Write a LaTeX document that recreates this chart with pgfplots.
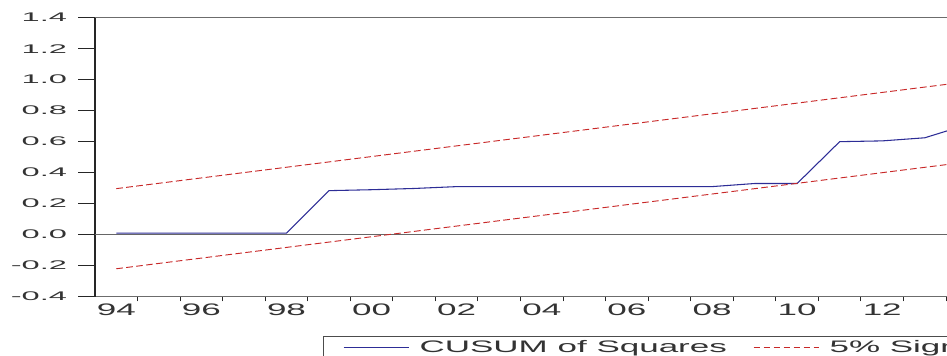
\documentclass[border=0pt]{standalone}
\usepackage{fontspec}
\setmainfont{Liberation Sans}
\newfontfamily\xfont{Liberation Sans}[FakeStretch=2.1]
\newfontfamily\yfont{Liberation Sans}[FakeStretch=2.6]
\usepackage{pgfplots}
\pgfplotsset{compat=1.18}
\definecolor{cusum}{RGB}{45,45,150}
\definecolor{sig}{RGB}{200,40,40}
\begin{document}
\begin{tikzpicture}
\useasboundingbox (-71.25pt,-44.5pt) rectangle (639pt,222.5pt);
\clip (-71.25pt,-44.5pt) rectangle (639pt,222.5pt);
\begin{axis}[
  at={(0,0)}, anchor=south west,
  scale only axis, width=893.6pt, height=209.25pt,
  xmin=1993.5, xmax=2021.5, ymin=-0.4, ymax=1.4,
  separate axis lines,
  x axis line style={draw=gray!85!black, line width=0.9pt},
  y axis line style={draw=black!85, line width=1.3pt},
  tick align=outside,
  xtick pos=bottom, ytick pos=left,
  major tick length=3.5pt,
  minor tick length=12.75pt,
  tick style={draw=black!85, line width=0.8pt},
  ytick={-0.4,-0.2,0,0.2,0.4,0.6,0.8,1.0,1.2,1.4},
  minor ytick={-0.4,-0.2,0,0.2,0.4,0.6,0.8,1.0,1.2,1.4},
  yticklabels={-0.4,-0.2,0.0,0.2,0.4,0.6,0.8,1.0,1.2,1.4},
  yticklabel style={font=\yfont\fontsize{9.4}{10}\selectfont, text=black!80, xshift=-14pt},
  xtick={1994.5,1995.5,...,2021.5},
  xticklabels={},
  extra x ticks={1994,1996,...,2020},
  extra x tick labels={94,96,98,00,02,04,06,08,10,12,14,16,18,20},
  extra x tick style={major tick length=0pt, xticklabel style={font=\xfont\fontsize{12.5}{13}\selectfont, text=black!80, yshift=-1.5pt}},
  legend columns=2,
  legend style={at={(0.1914,-0.141)}, anchor=north west, draw=black!70,
    line width=0.8pt, font=\xfont\fontsize{12.5}{13}\selectfont,
    inner sep=1pt, text=black!80},
  legend image code/.code={\path[draw=none] (0pt,0pt) -- (69pt,0pt); \draw[#1] (14pt,0pt) -- (63pt,0pt);},
  /tikz/every even column/.append style={column sep=4pt},
]
\addplot[forget plot, gray!80!black, line width=0.8pt] coordinates {(1993.5,0) (2021.5,0)};
\addplot[cusum, line width=0.8pt] coordinates {
(1994,0.01) (1995,0.01) (1996,0.01) (1997,0.01) (1998,0.01)
(1999,0.284) (2000,0.29) (2001,0.298) (2002,0.31) (2003,0.31)
(2004,0.31) (2005,0.31) (2006,0.31) (2007,0.31) (2008,0.31)
(2009,0.33) (2010,0.33) (2011,0.60) (2012,0.605) (2013,0.625)
(2014,0.71)};
\addlegendentry{CUSUM of Squares}
\addplot[sig, line width=0.7pt, dash pattern=on 5pt off 2.5pt] coordinates {(1994,0.297) (2021,1.228)};
\addlegendentry{5\% Significance}
\addplot[forget plot, sig, line width=0.7pt, dash pattern=on 5pt off 2.5pt] coordinates {(1994,-0.22) (2021,0.71)};
\end{axis}
\end{tikzpicture}
\end{document}
